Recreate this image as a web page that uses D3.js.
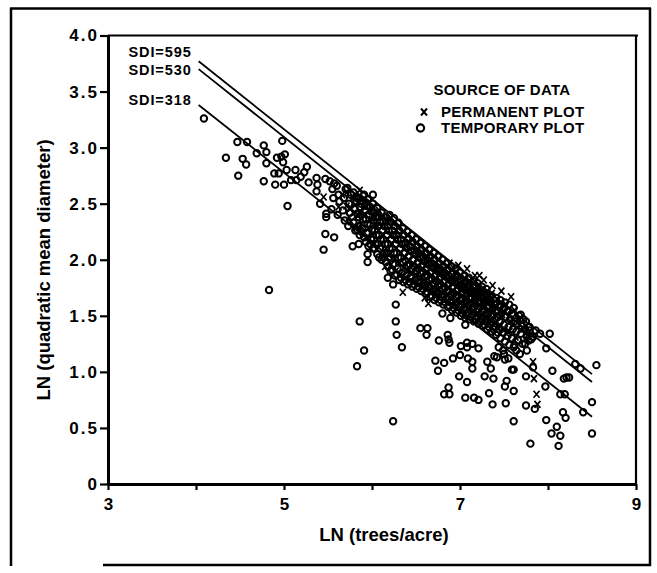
<!DOCTYPE html>
<html>
<head>
<meta charset="utf-8">
<script src="https://cdn.jsdelivr.net/npm/d3@7"></script>
<style>
  body { margin: 0; background: #fff; }
  svg text { font-family: "Liberation Sans", Arial, sans-serif; font-weight: bold; fill: #000; }
</style>
</head>
<body>
<div class="chart"></div>
<script>
// tick values / labels
var xTicks = [3, 4, 5, 6, 7, 8, 9];
var xTickLabels = ["3", "", "5", "", "7", "", "9"];
var yTicks = [0, 0.5, 1, 1.5, 2, 2.5, 3, 3.5, 4];
var yTickLabels = ["0", "0.5", "1.0", "1.5", "2.0", "2.5", "3.0", "3.5", "4.0"];

// SDI reference lines, end points [lnN0, lnD0, lnN1, lnD1]
var sdiNames = ["SDI=595", "SDI=530", "SDI=318"];
var sdiLines = [
  [4.03, 3.77, 8.50, 0.98],
  [4.03, 3.70, 8.50, 0.91],
  [4.03, 3.38, 8.50, 0.60]
];

// temporary plots (circles), outside the dense band
var tempOuter = [
  [4.09,3.26],[4.34,2.91],[4.47,3.05],[4.58,3.05],[4.48,2.75],[4.53,2.90],[4.57,2.85],[4.69,2.95],
  [4.77,3.02],[4.80,2.96],[4.80,2.86],[4.77,2.70],[4.89,2.77],[4.94,2.77],[4.90,2.67],[4.92,2.91],
  [4.97,2.92],[5.01,2.94],[4.98,3.06],[4.99,2.87],[5.00,2.67],[5.03,2.80],[5.04,2.48],[5.08,2.71],
  [5.13,2.80],[5.14,2.71],[5.19,2.74],[5.23,2.78],[5.26,2.83],[5.28,2.69],[5.37,2.73],[5.38,2.67],
  [5.37,2.61],[5.41,2.50],[5.47,2.72],[5.52,2.70],[5.48,2.41],[5.48,2.38],[5.47,2.23],[5.57,2.20],
  [5.45,2.09],[4.83,1.73],[5.78,2.12],[5.85,2.14],[5.95,2.05],[5.95,1.98],[6.01,2.58],[6.18,1.84],
  [6.24,1.78],
  [5.86,1.45],[5.91,1.19],[5.83,1.05],[6.27,1.60],[6.27,1.45],[6.28,1.33],[6.34,1.22],[6.24,0.56],
  [6.55,1.39],[6.63,1.39],[6.62,1.33],[6.76,1.28],[6.80,1.52],[6.89,1.48],[6.86,1.33],[6.87,1.29],
  [6.88,1.26],[6.72,1.10],[6.82,1.08],[6.75,1.01],[6.92,1.12],[7.00,1.15],[7.01,1.23],[7.08,1.26],
  [7.08,1.22],[7.14,1.25],[7.09,1.12],[7.14,1.09],[7.14,1.03],[6.99,0.96],[7.08,0.91],[6.87,0.86],
  [6.82,0.80],[6.88,0.80],[7.06,0.77],[7.16,0.77],[7.21,0.75],[7.21,1.21],[7.06,1.42],[7.31,1.09],
  [7.35,1.03],[7.28,0.96],[7.38,0.94],[7.39,1.14],[7.33,0.81],[7.37,0.71],[7.44,1.22],[7.49,1.19],
  [7.51,1.11],[7.55,1.12],[7.50,1.16],[7.59,1.02],[7.61,1.02],[7.53,0.92],[7.51,0.87],[7.61,0.83],
  [7.52,0.72],[7.61,0.56],[7.75,0.96],[7.75,0.70],[7.85,0.67],[7.83,1.04],[7.97,0.87],[7.98,1.21],
  [8.02,1.34],[8.05,1.01],[8.14,0.80],[8.19,0.80],[8.18,0.94],[8.21,0.95],[8.24,0.95],[7.98,0.57],
  [8.17,0.64],[8.20,0.59],[8.10,0.51],[8.04,0.45],[8.14,0.43],[7.80,0.36],[8.12,0.34],[8.31,1.07],
  [8.37,1.03],[8.55,1.06],[8.50,0.73],[8.50,0.45],[8.40,0.64],[7.69,1.51],[7.79,1.37],[7.83,1.31],
  [7.78,1.28],[7.74,1.25],[7.68,1.16],[7.76,1.19],[7.62,1.24],[7.64,1.19],[7.42,1.13],[7.86,1.37],
  [7.91,1.34]
];

// temporary plots (circles) inside the dense band
var tempBand = [
  [5.54,2.45],[5.56,2.55],[5.55,2.63],[5.57,2.68],
  [5.61,2.40],[5.63,2.52],[5.62,2.58],[5.60,2.66],
  [5.69,2.35],[5.67,2.44],[5.68,2.55],[5.70,2.63],
  [5.73,2.30],[5.75,2.42],[5.74,2.50],[5.76,2.58],[5.72,2.64],
  [5.81,2.26],[5.79,2.33],[5.80,2.45],[5.82,2.52],[5.79,2.60],
  [5.86,2.22],[5.84,2.30],[5.85,2.38],[5.87,2.47],[5.84,2.55],
  [5.91,2.20],[5.89,2.28],[5.90,2.36],[5.92,2.44],[5.89,2.52],[5.91,2.58],
  [5.96,2.12],[5.94,2.24],[5.95,2.32],[5.97,2.40],[5.94,2.48],[5.96,2.54],
  [6.01,2.10],[5.99,2.18],[6.00,2.27],[6.02,2.35],[5.99,2.43],[6.01,2.50],
  [6.06,2.05],[6.04,2.14],[6.05,2.22],[6.07,2.30],[6.04,2.38],[6.06,2.46],
  [6.11,2.00],[6.09,2.10],[6.10,2.18],[6.12,2.26],[6.09,2.34],[6.11,2.42],
  [6.16,1.98],[6.14,2.06],[6.15,2.14],[6.17,2.22],[6.14,2.30],[6.16,2.38],
  [6.21,1.90],[6.19,2.02],[6.20,2.10],[6.22,2.18],[6.19,2.26],[6.21,2.34],[6.20,2.40],
  [6.26,1.86],[6.24,1.96],[6.25,2.06],[6.27,2.14],[6.24,2.22],[6.26,2.30],[6.25,2.37],
  [6.31,1.82],[6.29,1.92],[6.30,2.02],[6.32,2.10],[6.29,2.18],[6.31,2.26],[6.30,2.33],
  [6.36,1.80],[6.34,1.88],[6.35,1.98],[6.37,2.06],[6.34,2.14],[6.36,2.22],[6.35,2.28],
  [6.41,1.78],[6.39,1.86],[6.40,1.95],[6.42,2.03],[6.39,2.11],[6.41,2.19],[6.40,2.25],
  [6.46,1.76],[6.44,1.84],[6.45,1.92],[6.47,2.00],[6.44,2.08],[6.46,2.16],[6.45,2.22],
  [6.51,1.74],[6.49,1.82],[6.50,1.90],[6.52,1.97],[6.49,2.05],[6.51,2.12],[6.50,2.18],
  [6.56,1.72],[6.54,1.80],[6.55,1.88],[6.57,1.95],[6.54,2.02],[6.56,2.09],[6.55,2.15],
  [6.61,1.70],[6.59,1.77],[6.60,1.85],[6.62,1.92],[6.59,1.99],[6.61,2.06],[6.60,2.12],
  [6.66,1.67],[6.64,1.75],[6.65,1.82],[6.67,1.89],[6.64,1.96],[6.66,2.03],[6.65,2.09],
  [6.71,1.64],[6.69,1.72],[6.70,1.79],[6.72,1.86],[6.69,1.93],[6.71,2.00],[6.70,2.06],
  [6.76,1.62],[6.74,1.70],[6.75,1.77],[6.77,1.84],[6.74,1.91],[6.76,1.97],[6.75,2.03],
  [6.81,1.60],[6.79,1.67],[6.80,1.74],[6.82,1.81],[6.79,1.88],[6.81,1.94],[6.80,2.00],
  [6.86,1.58],[6.84,1.65],[6.85,1.72],[6.87,1.78],[6.84,1.85],[6.86,1.91],[6.85,1.97],
  [6.91,1.55],[6.89,1.62],[6.90,1.69],[6.92,1.76],[6.89,1.82],[6.91,1.88],[6.90,1.94],
  [6.96,1.53],[6.94,1.60],[6.95,1.67],[6.97,1.73],[6.94,1.80],[6.96,1.86],[6.95,1.92],
  [7.01,1.50],[6.99,1.58],[7.00,1.64],[7.02,1.71],[6.99,1.77],[7.01,1.83],[7.00,1.89],
  [7.06,1.48],[7.04,1.56],[7.05,1.62],[7.07,1.68],[7.04,1.74],[7.06,1.80],[7.05,1.86],
  [7.11,1.47],[7.09,1.53],[7.10,1.60],[7.12,1.66],[7.09,1.72],[7.11,1.78],[7.10,1.84],
  [7.16,1.45],[7.14,1.51],[7.15,1.58],[7.17,1.64],[7.14,1.70],[7.16,1.76],[7.15,1.81],
  [7.21,1.43],[7.19,1.49],[7.20,1.56],[7.22,1.62],[7.19,1.68],[7.21,1.74],[7.20,1.79],
  [7.26,1.41],[7.24,1.47],[7.25,1.54],[7.27,1.60],[7.24,1.66],[7.26,1.72],[7.25,1.76],
  [7.31,1.38],[7.29,1.45],[7.30,1.52],[7.32,1.58],[7.29,1.64],[7.31,1.70],[7.30,1.74],
  [7.36,1.36],[7.34,1.43],[7.35,1.50],[7.37,1.56],[7.34,1.62],[7.36,1.68],
  [7.41,1.33],[7.39,1.40],[7.40,1.47],[7.42,1.54],[7.39,1.60],[7.41,1.66],
  [7.46,1.30],[7.44,1.38],[7.45,1.45],[7.47,1.52],[7.44,1.58],[7.46,1.64],
  [7.51,1.27],[7.49,1.35],[7.50,1.42],[7.52,1.49],[7.49,1.56],[7.51,1.62],
  [7.56,1.24],[7.54,1.32],[7.55,1.40],[7.57,1.47],[7.54,1.54],[7.56,1.60],
  [7.61,1.22],[7.59,1.30],[7.60,1.38],[7.62,1.45],[7.59,1.52],[7.61,1.57],
  [7.66,1.28],[7.64,1.36],[7.65,1.43],[7.67,1.50],
  [7.71,1.25],[7.69,1.34],[7.70,1.41],[7.72,1.47],
  [7.76,1.31],[7.74,1.38],[7.75,1.45],
  [7.81,1.29],[7.79,1.40]
];

// more temporary plots filling the core of the band
var tempCore = [
  [5.83,2.27],[5.83,2.41],[5.83,2.56],[5.88,2.25],[5.88,2.40],[5.88,2.50],[5.93,2.16],[5.93,2.36],
  [5.93,2.51],[5.98,2.14],[5.98,2.31],[5.98,2.47],[6.03,2.10],[6.03,2.26],[6.03,2.42],[6.08,2.02],
  [6.08,2.22],[6.08,2.38],[6.13,2.02],[6.13,2.18],[6.13,2.34],[6.18,1.94],[6.18,2.14],[6.18,2.30],
  [6.23,1.91],[6.23,2.10],[6.23,2.26],[6.28,1.87],[6.28,2.06],[6.28,2.22],[6.33,1.84],[6.33,2.02],
  [6.33,2.18],[6.38,1.82],[6.38,1.99],[6.38,2.15],[6.43,1.80],[6.43,1.96],[6.43,2.12],[6.48,1.78],
  [6.48,1.94],[6.48,2.09],[6.53,1.76],[6.53,1.92],[6.53,2.06],[6.58,1.74],[6.58,1.89],[6.58,2.03],
  [6.63,1.71],[6.63,1.86],[6.63,2.00],[6.68,1.68],[6.68,1.83],[6.68,1.97],[6.73,1.66],[6.73,1.81],
  [6.73,1.94],[6.78,1.64],[6.78,1.78],[6.78,1.91],[6.83,1.62],[6.83,1.75],[6.83,1.88],[6.88,1.59],
  [6.88,1.72],[6.88,1.85],[6.93,1.57],[6.93,1.70],[6.93,1.83],[6.98,1.55],[6.98,1.68],[6.98,1.80],
  [7.03,1.52],[7.03,1.65],[7.03,1.77],[7.08,1.50],[7.08,1.63],[7.08,1.75],[7.13,1.49],[7.13,1.61],
  [7.13,1.73],[7.18,1.47],[7.18,1.60],[7.18,1.71],[7.23,1.45],[7.23,1.58],[7.23,1.70],[7.28,1.42],
  [7.28,1.55],[7.28,1.67],[7.33,1.40],[7.33,1.53],[7.33,1.65],[7.38,1.38],[7.38,1.51],[7.43,1.35],
  [7.43,1.49]
];

// permanent plots (x marks)
var permPlots = [
  [5.45,2.56],[6.35,1.71],[6.15,1.94],[7.83,1.09],[7.84,0.94],[7.87,0.80],[7.88,0.71],[7.34,1.43],
  [7.22,1.86],[6.64,1.61],[6.60,1.66],
  [5.62,2.47],[5.66,2.58],[5.74,2.38],[5.78,2.55],[5.83,2.40],[5.86,2.62],[5.88,2.32],[5.93,2.47],
  [5.96,2.20],[6.00,2.36],[6.03,2.14],[6.06,2.30],[6.08,2.44],[6.12,2.05],[6.13,2.22],[6.17,2.02],
  [6.18,2.33],[6.22,1.96],[6.23,2.14],[6.27,1.90],[6.28,2.26],[6.32,1.87],[6.33,2.06],[6.37,2.18],
  [6.38,1.84],[6.42,1.99],[6.43,2.15],[6.47,1.80],[6.48,2.08],[6.52,1.93],[6.53,1.78],[6.57,2.05],
  [6.58,1.76],[6.62,1.88],[6.63,2.02],[6.67,1.70],[6.68,1.96],[6.72,1.82],[6.73,1.68],[6.77,1.94],
  [6.78,1.80],[6.82,1.63],[6.83,1.91],[6.87,1.75],[6.88,1.97],[6.92,1.58],[6.93,1.85],[6.97,1.70],
  [6.98,1.95],[7.02,1.54],[7.03,1.80],[7.07,1.67],[7.08,1.92],[7.12,1.77],[7.13,1.52],[7.17,1.86],
  [7.18,1.63],[7.22,1.73],[7.23,1.48],[7.27,1.82],[7.28,1.59],[7.32,1.69],[7.33,1.44],[7.37,1.77],
  [7.38,1.55],[7.42,1.65],[7.43,1.40],[7.47,1.72],[7.48,1.51],[7.52,1.60],[7.53,1.34],[7.57,1.45],
  [7.58,1.67],[7.62,1.55],[7.63,1.31],[7.67,1.47],[7.72,1.38],[7.77,1.33],
  [5.71,2.48],[5.71,2.60],[5.76,2.46],[5.76,2.34],[5.81,2.29],[5.81,2.49],[5.81,2.58],
  [5.86,2.26],[5.86,2.43],[5.86,2.51],[5.91,2.24],[5.91,2.40],[5.91,2.55],[5.96,2.28],
  [5.96,2.44],[5.96,2.51],[6.01,2.22],[6.01,2.39],[6.01,2.47],[6.06,2.18],[6.06,2.34],
  [6.06,2.41],[6.11,2.14],[6.11,2.30],[6.11,2.39],[6.16,2.10],[6.16,2.26],[6.16,2.35],
  [6.21,2.06],[6.21,2.22],[6.21,2.37],[6.26,2.01],[6.26,2.18],[6.26,2.33],[6.31,1.97],
  [6.31,2.14],[6.31,2.30],[6.36,1.93],[6.36,2.10],[6.36,2.25],[6.41,1.90],[6.41,2.07],
  [6.41,2.22],[6.46,1.88],[6.46,2.04],[6.46,2.19],[6.51,1.86],[6.51,2.01],[6.51,2.15],
  [6.56,1.84],[6.56,1.98],[6.56,2.12],[6.61,1.81],[6.61,1.95],[6.61,2.09],[6.66,1.78],
  [6.66,1.92],[6.66,2.06],[6.71,1.75],[6.71,1.89],[6.71,2.03],[6.76,1.73],[6.76,1.87],
  [6.76,2.00],[6.81,1.70],[6.81,1.84],[6.81,1.97],[6.86,1.68],[6.86,1.81],[6.86,1.94],
  [6.91,1.65],[6.91,1.79],[6.91,1.91],[6.96,1.63],[6.96,1.76],[6.96,1.89],[7.01,1.61],
  [7.01,1.74],[7.01,1.86],[7.06,1.59],[7.06,1.71],[7.06,1.83],[7.11,1.56],[7.11,1.69],
  [7.11,1.81],[7.16,1.54],[7.16,1.67],[7.16,1.79],[7.21,1.52],[7.21,1.65],[7.21,1.77],
  [7.26,1.50],[7.26,1.63],[7.26,1.74],[7.31,1.48],[7.31,1.61],[7.31,1.72],[7.36,1.46],
  [7.36,1.59],[7.36,1.70],[7.41,1.44],[7.41,1.57],[7.46,1.41],[7.46,1.55],[7.51,1.38],
  [7.51,1.53],[7.56,1.36],[7.56,1.50]
];

var legendTitle = "SOURCE OF DATA";
var legendNames = ["PERMANENT PLOT", "TEMPORARY PLOT"];

var W = 657, H = 573;
var plotLeft = 108, plotRight = 636, plotTop = 35.5, plotBottom = 484;
// vertical nudges for the SDI labels (px)
var sdiLabelShift = [-4.5, 5.5, 0];

var svg = d3.select(".chart").append("svg")
  .attr("width", W)
  .attr("height", H);

// scanned page frame
var frame = svg.append("g").attr("stroke", "#000").attr("stroke-width", 2.5);
frame.append("line").attr("x1", 10).attr("x2", 651).attr("y1", 8.5).attr("y2", 8.5);
frame.append("line").attr("x1", 11).attr("x2", 11).attr("y1", 8).attr("y2", 566);
frame.append("line").attr("x1", 650).attr("x2", 650).attr("y1", 8).attr("y2", 566);
frame.append("line").attr("x1", 103).attr("x2", 651).attr("y1", 565).attr("y2", 565);

var x = d3.scaleLinear().domain([3, 9]).range([plotLeft, plotRight]);
var y = d3.scaleLinear().domain([0, 4]).range([plotBottom, plotTop]);

// top and right border of the plot box
svg.append("line").attr("x1", x(3)).attr("x2", x(9) + 2).attr("y1", y(4)).attr("y2", y(4))
  .attr("stroke", "#000").attr("stroke-width", 2);
svg.append("line").attr("x1", x(9)).attr("x2", x(9)).attr("y1", y(4)).attr("y2", y(0))
  .attr("stroke", "#000").attr("stroke-width", 2.2);

var xAxis = d3.axisBottom(x)
  .tickValues(xTicks)
  .tickFormat(function(d, i){ return xTickLabels[i]; })
  .tickSize(6)
  .tickSizeOuter(0)
  .tickPadding(8);

var yAxis = d3.axisLeft(y)
  .tickValues(yTicks)
  .tickFormat(function(d, i){ return yTickLabels[i]; })
  .tickSize(8)
  .tickSizeOuter(0)
  .tickPadding(1);

var gx = svg.append("g")
  .attr("transform", "translate(0," + plotBottom + ")")
  .call(xAxis);
gx.select(".domain").attr("stroke-width", 3);
gx.selectAll(".tick line").attr("stroke-width", 2.2);
gx.selectAll(".tick text").attr("font-size", 17).attr("font-family", null);

var gy = svg.append("g")
  .attr("transform", "translate(" + plotLeft + ",0)")
  .call(yAxis);
gy.select(".domain").attr("stroke-width", 3);
gy.selectAll(".tick line").attr("stroke-width", 2.2);
gy.selectAll(".tick text").attr("font-size", 17).attr("font-family", null)
  .style("letter-spacing", "2px");

// axis titles
svg.append("text")
  .attr("x", 384).attr("y", 541)
  .attr("text-anchor", "middle")
  .attr("font-size", 18.5)
  .text("LN (trees/acre)");

svg.append("text")
  .attr("transform", "translate(50,270) rotate(-90)")
  .attr("text-anchor", "middle")
  .attr("font-size", 18.5)
  .text("LN (quadratic mean diameter)");

// SDI lines and labels
svg.append("g").selectAll("line")
  .data(sdiLines)
  .join("line")
  .attr("x1", function(d){ return x(d[0]); })
  .attr("y1", function(d){ return y(d[1]); })
  .attr("x2", function(d){ return x(d[2]); })
  .attr("y2", function(d){ return y(d[3]); })
  .attr("stroke", "#000")
  .attr("stroke-width", 1.8);

svg.append("g").selectAll("text")
  .data(sdiLines)
  .join("text")
  .attr("x", function(d){ return x(d[0]) - 7; })
  .attr("y", function(d, i){ return y(d[1]) + sdiLabelShift[i]; })
  .attr("text-anchor", "end")
  .attr("font-size", 14.5)
  .style("letter-spacing", "0.9px")
  .text(function(d, i){ return sdiNames[i]; });

// points
var marks = svg.append("g");

marks.selectAll("circle")
  .data(tempOuter.concat(tempBand, tempCore))
  .join("circle")
  .attr("cx", function(d){ return x(d[0]); })
  .attr("cy", function(d){ return y(d[1]); })
  .attr("r", 3.2)
  .attr("fill", "none")
  .attr("stroke", "#000")
  .attr("stroke-width", 2);

var xMark = "M-3,-3.5L3,3.5M3,-3.5L-3,3.5";
marks.selectAll("path")
  .data(permPlots)
  .join("path")
  .attr("transform", function(d){ return "translate(" + x(d[0]) + "," + y(d[1]) + ")"; })
  .attr("d", xMark)
  .attr("fill", "none")
  .attr("stroke", "#000")
  .attr("stroke-width", 1.7);

// legend
var lg = svg.append("g");
lg.append("text")
  .attr("x", 502).attr("y", 95)
  .attr("text-anchor", "middle")
  .attr("font-size", 15)
  .style("letter-spacing", "0.3px")
  .text(legendTitle);

lg.selectAll("text.item")
  .data(legendNames)
  .join("text")
  .attr("class", "item")
  .attr("x", 441)
  .attr("y", function(d, i){ return 117 + i * 16; })
  .attr("font-size", 15)
  .style("letter-spacing", "0.3px")
  .text(function(d){ return d; });

lg.append("path")
  .attr("transform", "translate(424,112)")
  .attr("d", "M-3,-3.5L3,3.5M3,-3.5L-3,3.5")
  .attr("fill", "none").attr("stroke", "#000").attr("stroke-width", 2);
lg.append("circle")
  .attr("cx", 420.5).attr("cy", 128)
  .attr("r", 3.6)
  .attr("fill", "none").attr("stroke", "#000").attr("stroke-width", 2.2);
</script>
</body>
</html>
